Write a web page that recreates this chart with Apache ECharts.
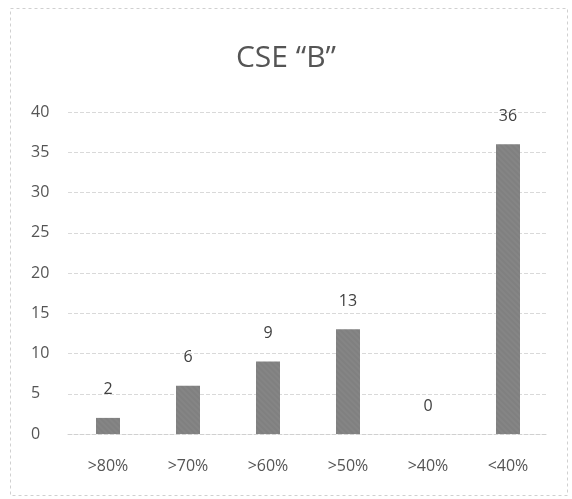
<!DOCTYPE html>
<html><head><meta charset="utf-8">
<script src="https://cdn.jsdelivr.net/npm/echarts@6/dist/echarts.min.js"></script>
<style>html,body{margin:0;padding:0;background:#fff}#c{width:572px;height:499px}</style>
</head><body><div id="c"></div>
<script>
const categories = [">80%", ">70%", ">60%", ">50%", ">40%", "<40%"];
const values = [2, 6, 9, 13, 0, 36];
const yTicks = [0, 5, 10, 15, 20, 25, 30, 35, 40];
const titleText = "CSE \u201cB\u201d";

const chart = echarts.init(document.getElementById('c'));
chart.setOption({
  backgroundColor: '#fff',
  graphic: [{
    type: 'rect', left: 8, top: 6,
    shape: { width: 557, height: 487 },
    style: { fill: 'none', stroke: '#d0d0d0', lineWidth: 1, lineDash: [3, 3] }
  }],
  title: {
    text: titleText, left: 'center', top: 38,
    textStyle: { fontFamily: 'Open Sans', fontSize: 30, fontWeight: 'normal', color: '#555' }
  },
  grid: { left: 68, right: 24, top: 112, bottom: 65 },
  xAxis: {
    type: 'category', data: categories,
    axisLine: { show: true, lineStyle: { color: '#d0d0d0', type: 'dashed' } },
    axisTick: { show: false },
    axisLabel: { color: '#555', fontFamily: 'Open Sans', fontSize: 16, margin: 24 }
  },
  yAxis: {
    type: 'value', min: yTicks[0], max: yTicks[yTicks.length - 1], interval: 5,
    axisLine: { show: false }, axisTick: { show: false },
    axisLabel: { color: '#555', fontFamily: 'Open Sans', fontSize: 16, margin: 37, align: 'left' },
    splitLine: { lineStyle: { color: '#d9d9d9', type: 'dashed' } }
  },
  series: [{
    type: 'bar', data: values, barWidth: 24,
    itemStyle: {
      color: '#858585',
      decal: { symbol: 'rect', symbolSize: 0.5, dashArrayX: [1, 0], dashArrayY: [2, 2], rotation: 0.785, color: 'rgba(60,60,60,0.25)' }
    },
    label: { show: true, position: 'top', distance: 20, color: '#404040', fontFamily: 'Open Sans', fontSize: 16 }
  }]
});
</script></body></html>
